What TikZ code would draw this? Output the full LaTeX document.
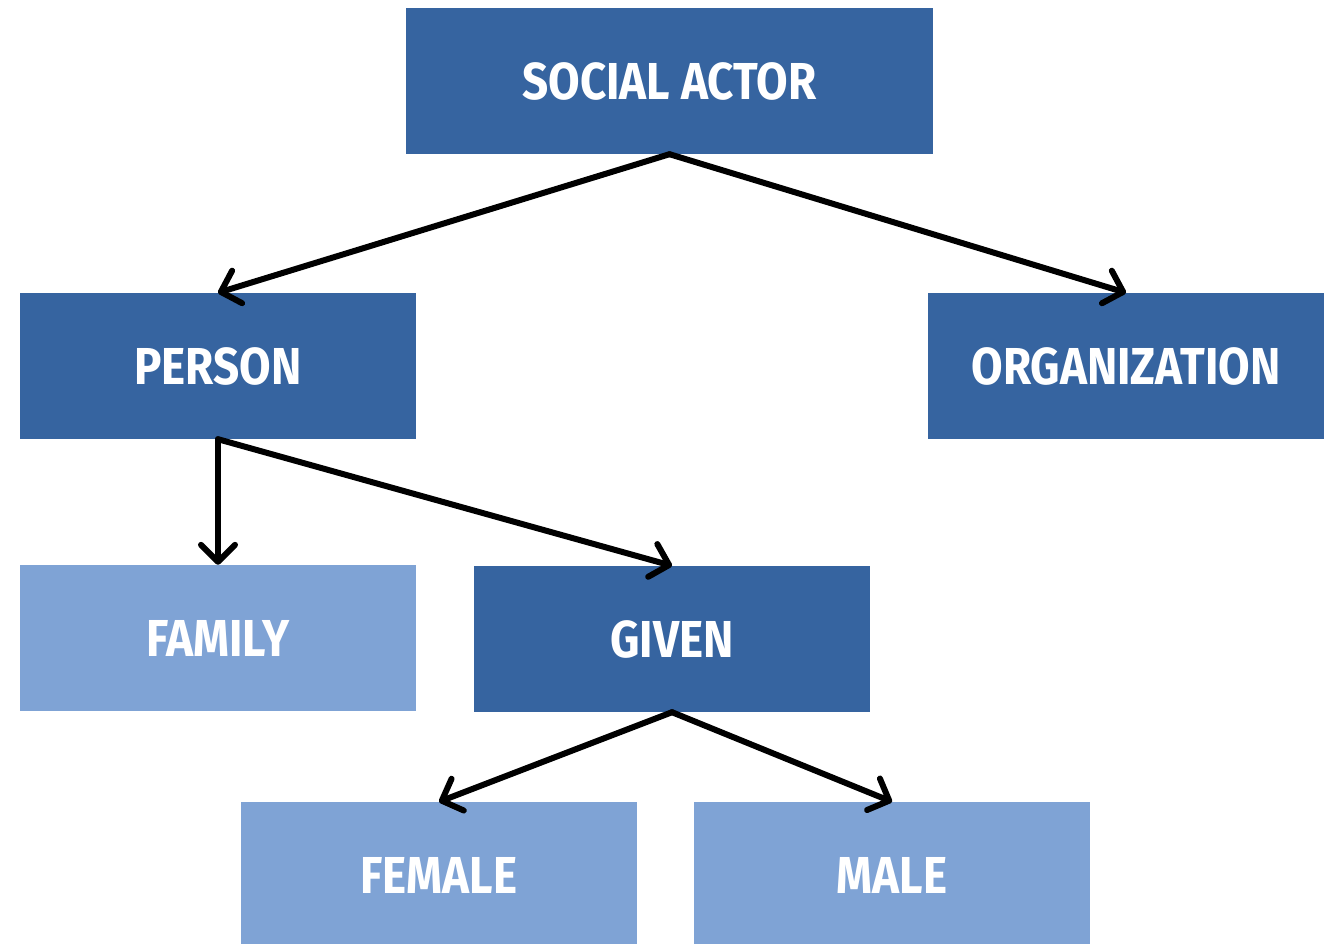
\documentclass[tikz,border=0pt]{standalone}
\usepackage{fontspec}
\setmainfont{Fira Sans}[BoldFont={Fira Sans Bold},BoldFeatures={FakeStretch=0.88}]
\usetikzlibrary{arrows.meta}
\definecolor{darkblue}{HTML}{3664A0}
\definecolor{lightblue}{HTML}{7FA3D5}
\tikzset{
  box/.style={rectangle, inner sep=0pt, minimum width=396pt, minimum height=146pt,
    text=white, font=\bfseries\fontsize{52}{52}\selectfont},
  darkbox/.style={box, fill=darkblue},
  lightbox/.style={box, fill=lightblue},
  link/.style={line width=6pt, line cap=round, line join=round,
    -{Straight Barb[length=17pt, width=34pt, line cap=round, line join=round]}},
}
\begin{document}
\begin{tikzpicture}[x=1pt, y=-1pt]
  \useasboundingbox (0,0) rectangle (1332,944);
  \node[darkbox, minimum width=527pt] (actor) at (669.5,81) {SOCIAL ACTOR};
  \node[darkbox] (person) at (218,366) {PERSON};
  \node[darkbox] (org) at (1126,366) {ORGANIZATION};
  \node[lightbox] (family) at (218,638) {FAMILY};
  \node[darkbox] (given) at (672,639) {GIVEN};
  \node[lightbox] (female) at (439,875) {FEMALE};
  \node[lightbox] (male) at (892,875) {MALE};
  \draw[link] (actor.south) -- (person.north);
  \draw[link] (actor.south) -- (org.north);
  \draw[link] (person.south) -- (family.north);
  \draw[link] (person.south) -- (given.north);
  \draw[link] (given.south) -- (female.north);
  \draw[link] (given.south) -- (male.north);
\end{tikzpicture}
\end{document}
